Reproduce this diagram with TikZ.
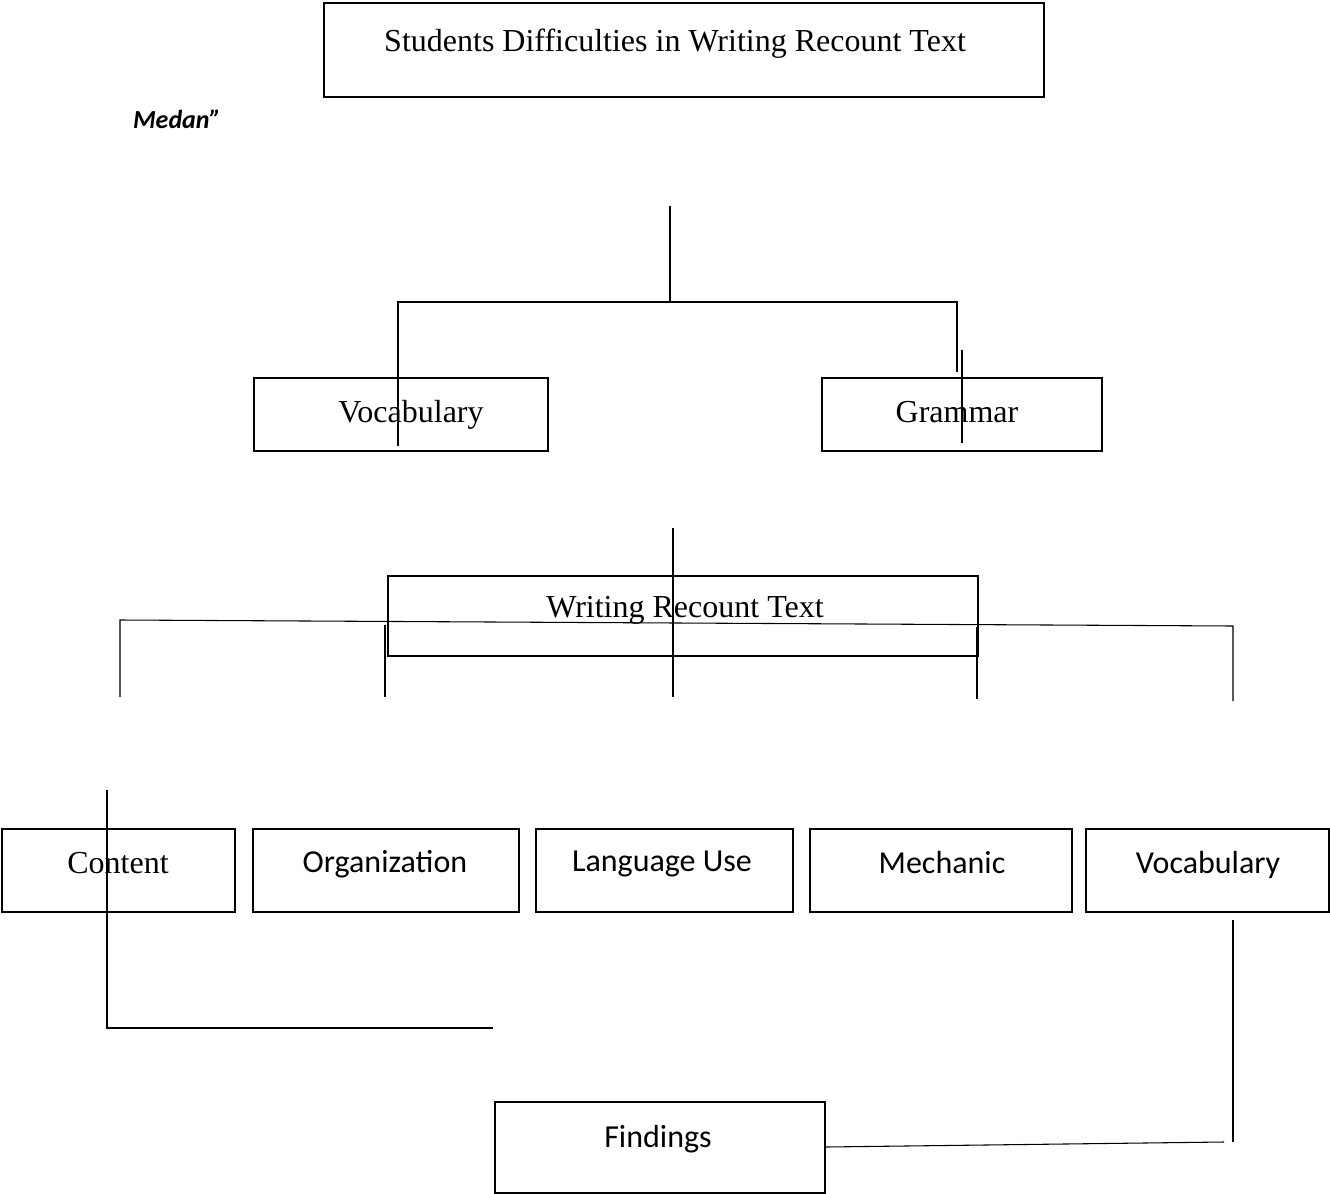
\documentclass[tikz,border=0pt]{standalone}
\usepackage{fontspec}
\setmainfont{Liberation Serif}
\newfontfamily\calfont{Carlito}
\usetikzlibrary{fit}
\begin{document}
\begin{tikzpicture}[x=0.75pt,y=-0.75pt,
  box/.style={draw, line width=1.5pt, inner sep=0pt},
  conn/.style={line width=0.8pt},
  serif/.style={font=\fontsize{24}{28}\selectfont, inner sep=0pt},
  sans/.style={font=\calfont\fontsize{24}{28}\selectfont, inner sep=0pt}]
\useasboundingbox[fill=white] (0,0) rectangle (1330,1194);
% boxes
\node[box, fit={(324,3) (1044,97)}] (top) {};
\node[serif] (topt) at (675,44) {Students Difficulties in Writing Recount Text};
\node[font=\calfont\bfseries\itshape\fontsize{19.5}{23}\selectfont, inner sep=0pt] (medan) at (177,119) {Medan”};
\node[box, fit={(254,378) (548,451)}] (voc1) {};
\node[serif] (voc1t) at (411,415) {Vocabulary};
\node[box, fit={(822,378) (1102,451)}] (gram) {};
\node[serif] (gramt) at (957,412) {Grammar};
\node[box, fit={(388,576) (978,656)}] (wrt) {};
\node[serif] (wrtt) at (685,610) {Writing Recount Text};
\node[box, fit={(2,829) (235,912)}] (cont) {};
\node[serif] (contt) at (118,863) {Content};
\node[box, fit={(253,829) (519,912)}] (org) {};
\node[sans] (orgt) at (385,864) {Organization};
\node[box, fit={(536,829) (793,912)}] (lang) {};
\node[sans] (langt) at (662,864) {Language Use};
\node[box, fit={(810,829) (1072,912)}] (mech) {};
\node[sans] (mecht) at (942,862) {Mechanic};
\node[box, fit={(1086,829) (1329,912)}] (voc2) {};
\node[sans] (voc2t) at (1208,865) {Vocabulary};
\node[box, fit={(495,1102) (825,1193)}] (find) {};
\node[sans] (findt) at (658,1139) {Findings};
% coordinates
\coordinate (a1) at (670,206); \coordinate (a2) at (670,302);
\coordinate (h1) at (398,302); \coordinate (h2) at (957,302);
\coordinate (l1) at (398,446); \coordinate (l2) at (398,350);
\coordinate (r1) at (957,372); \coordinate (r2) at (962,350); \coordinate (r3) at (962,443);
\coordinate (b1) at (673,528); \coordinate (b2) at (673,697);
\coordinate (s1) at (120,620); \coordinate (s2) at (1233,626);
\coordinate (c1) at (120,697); \coordinate (d0) at (385,625); \coordinate (d1) at (385,697);
\coordinate (e0) at (977,627); \coordinate (e1) at (977,699); \coordinate (f1) at (1233,701);
\coordinate (g0) at (107,790); \coordinate (g1) at (107,1028); \coordinate (g2) at (493,1028);
\coordinate (k0) at (1233,920); \coordinate (k1) at (1233,1142);
\coordinate (m0) at (826,1147); \coordinate (m1) at (1224,1142);
% connectors
\draw[conn] (a1) -- (a2);
\draw[conn] (l1) -- (h1) -- (h2) -- (r1);
\draw[conn] (r2) -- (r3);
\draw[conn] (b1) -- (b2);
\draw[conn] (c1) -- (s1) -- (s2) -- (f1);
\draw[conn] (d0) -- (d1);
\draw[conn] (e0) -- (e1);
\draw[conn] (g0) -- (g1) -- (g2);
\draw[conn] (k0) -- (k1);
\draw[conn] (m0) -- (m1);
\end{tikzpicture}
\end{document}
